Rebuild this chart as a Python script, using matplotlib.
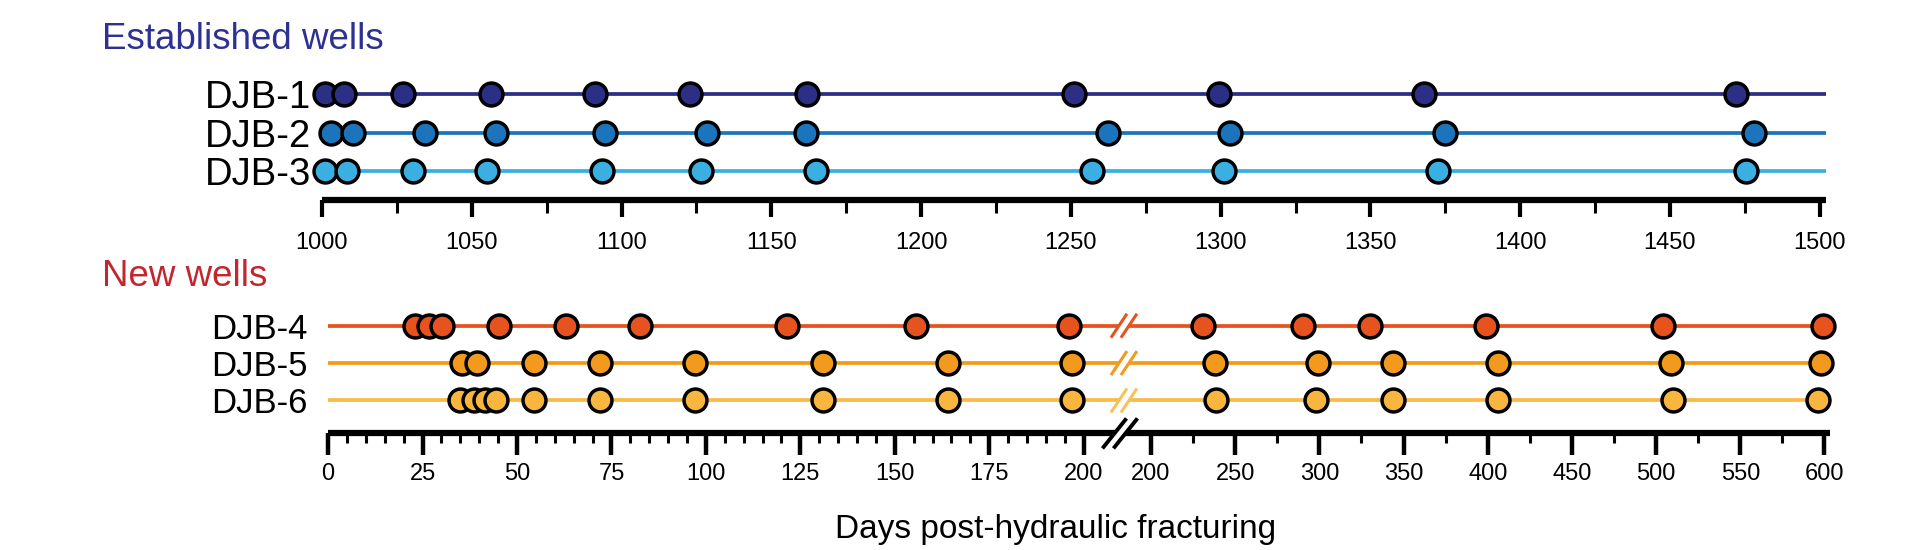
import numpy as np
import matplotlib
matplotlib.use('Agg')
import matplotlib.pyplot as plt
from matplotlib.lines import Line2D
from matplotlib.ticker import FixedLocator

plt.rcParams['font.family'] = ['Liberation Sans', 'DejaVu Sans']

# established wells (days post-fracturing)
established_names = ['DJB-1', 'DJB-2', 'DJB-3']
djb1_days = [1001, 1007.5, 1027, 1056.5, 1091, 1123, 1162, 1251, 1299.5, 1368, 1472]
djb2_days = [1003, 1010.5, 1034.5, 1058, 1094.5, 1128.5, 1161.5, 1262.5, 1303, 1375, 1478]
djb3_days = [1001, 1008.5, 1030.5, 1055, 1093.5, 1126.5, 1165, 1257, 1301, 1372.5, 1475.5]

# new wells
new_names = ['DJB-4', 'DJB-5', 'DJB-6']
djb4_days = [23, 26.8, 30.2, 45.3, 62.9, 82.6, 121.5, 155.5, 196, 231, 290, 330, 399, 504, 599]
djb5_days = [35.3, 39.3, 54.5, 72, 97, 131, 164, 197, 238, 299, 344, 406, 509, 598]
djb6_days = [35, 38.5, 41.5, 44.5, 54.5, 72, 97, 131, 164, 197, 238.5, 298, 344, 406, 510, 596]

top_ticks = np.arange(1000, 1501, 50)
left_ticks = np.arange(0, 201, 25)
right_ticks = np.arange(200, 601, 50)

est_colors = ['#2B2F85', '#1C75BC', '#3BAFE2']
new_colors = ['#E6531E', '#F29A1E', '#F8B63F']
new_line_colors = ['#E6531E', '#F29A1E', '#F8BA4A']

W, H = 1920, 550
fig = plt.figure(figsize=(W / 100, H / 100), dpi=100)

MS = 16.5
MEW = 2.5
LW = 2.7
TICK_FS = 17


def style_axis(ax):
    for s in ['top', 'left', 'right']:
        ax.spines[s].set_visible(False)
    ax.spines['bottom'].set_linewidth(4.5)
    ax.spines['bottom'].set_capstyle('butt')
    ax.patch.set_visible(False)


# ---------- top panel ----------
ax_top = fig.add_axes([0.1677, 0.637, 0.7832, 0.2267])
ax_top.set_xlim(1000, 1502)
ax_top.set_ylim(0.27, 3.5)
for i, (days, col) in enumerate(zip([djb1_days, djb2_days, djb3_days], est_colors)):
    y = 3 - i
    ax_top.axhline(y, color=col, lw=LW, zorder=1)
    ax_top.plot(days, [y] * len(days), 'o', ms=MS, mfc=col, mec='black', mew=MEW,
                clip_on=False, zorder=3)
style_axis(ax_top)
ax_top.set_yticks([3, 2, 1], established_names)
ax_top.set_xticks(top_ticks)
ax_top.xaxis.set_minor_locator(FixedLocator(np.arange(1025, 1500, 50)))
ax_top.tick_params(axis='y', length=0, pad=8, labelsize=27.5)
ax_top.tick_params(axis='x', which='major', length=12, width=3, pad=11, labelsize=TICK_FS)
ax_top.tick_params(axis='x', which='minor', length=9, width=2.2)

# ---------- bottom panel (broken axis) ----------
px_left = 3.085 / 1568   # fig fraction per day, left segment
px_right = 1.375 / 1568  # fig fraction per day, right segment
x0_left = 268 / 1568
x200_right = 940 / 1568
gap_x = 913 / 1568
left_max = (gap_x - x0_left) / px_left
right_min = 200 - (x200_right - gap_x) / px_right
right_max = 603

ax_l = fig.add_axes([x0_left, 0.212, gap_x - x0_left, 0.2298])
ax_r = fig.add_axes([gap_x, 0.212, (right_max - right_min) * px_right, 0.2298])
ax_l.set_xlim(0, left_max)
ax_r.set_xlim(right_min, right_max)
for ax in [ax_l, ax_r]:
    ax.set_ylim(0.12, 3.5)
    style_axis(ax)

for i, (days, col, lcol) in enumerate(zip([djb4_days, djb5_days, djb6_days], new_colors, new_line_colors)):
    y = 3 - i
    days = np.array(days)
    ax_l.axhline(y, color=lcol, lw=LW, zorder=1)
    ax_r.axhline(y, color=lcol, lw=LW, zorder=1)
    d = days[days <= 200]
    ax_l.plot(d, [y] * len(d), 'o', ms=MS, mfc=col, mec='black', mew=MEW, clip_on=False, zorder=3)
    d = days[days > 200]
    ax_r.plot(d, [y] * len(d), 'o', ms=MS, mfc=col, mec='black', mew=MEW, clip_on=False, zorder=3)

ax_l.set_yticks([3, 2, 1], new_names)
ax_l.tick_params(axis='y', length=0, pad=15, labelsize=25)
ax_r.set_yticks([])
ax_l.set_xticks(left_ticks)
ax_l.xaxis.set_minor_locator(FixedLocator(np.arange(0, 201, 5)))
ax_r.set_xticks(right_ticks)
ax_r.xaxis.set_minor_locator(FixedLocator(np.arange(225, 600, 50)))
for ax in [ax_l, ax_r]:
    ax.tick_params(axis='x', which='major', length=16, width=3.2, pad=5, labelsize=TICK_FS)
    ax.tick_params(axis='x', which='minor', length=7, width=2.2)


# break marks "//"
def draw_break(cx, cy, color, h, w, sep, lw):
    # white gap then two slanted strokes (pixel offsets)
    def seg(dx):
        xs = [(cx + dx - w / 2) / W, (cx + dx + w / 2) / W]
        ys = [(cy - h / 2) / H, (cy + h / 2) / H]
        return xs, ys
    xs, ys = seg(0)
    fig.add_artist(Line2D(xs, ys, color='white', lw=sep * 0.72, transform=fig.transFigure,
                          solid_capstyle='butt', zorder=5))
    for dx in [-sep / 2, sep / 2]:
        xs, ys = seg(dx)
        fig.add_artist(Line2D(xs, ys, color=color, lw=lw, transform=fig.transFigure,
                              solid_capstyle='butt', zorder=6))


fig.canvas.draw()
cx_px = gap_x * W + 6
for i, col in enumerate(['#E6531E', '#F29A1E', '#F8C15A']):
    cy_px = ax_l.transData.transform((0, 3 - i))[1]
    draw_break(cx_px, cy_px, col, 24, 16, 10, 2.2)
axis_y_px = ax_l.transAxes.transform((0, 0))[1]
draw_break(gap_x * W + 2, axis_y_px, 'black', 30, 24, 11, 2.8)

# titles and axis label
fig.text(83 / 1568, 1 - 0.071, 'Established wells', fontsize=26.5, color='#2E3192',
         ha='left', va='center')
fig.text(83 / 1568, 1 - 0.503, 'New wells', fontsize=26.5, color='#C1272D',
         ha='left', va='center')
fig.text(862 / 1568, 0.038, 'Days post-hydraulic fracturing', fontsize=24,
         ha='center', va='center')

fig.savefig('out.png', dpi=100)
